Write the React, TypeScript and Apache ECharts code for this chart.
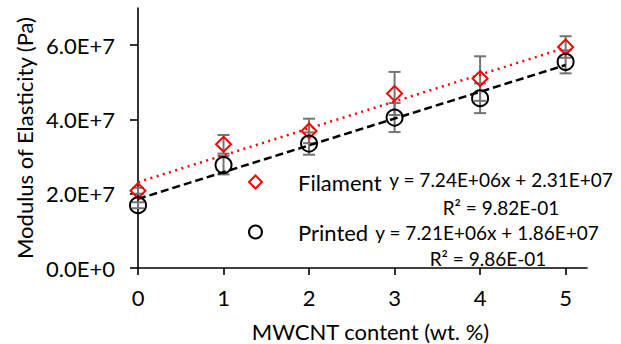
import React, { useEffect, useRef } from "react";
import * as echarts from "echarts";

const xValues = [0, 1, 2, 3, 4, 5];
const filamentValues = [2.08e7, 3.33e7, 3.69e7, 4.70e7, 5.10e7, 5.95e7];
const filamentErrors = [0.08e7, 0.25e7, 0.33e7, 0.58e7, 0.6e7, 0.29e7];
const printedValues = [1.69e7, 2.77e7, 3.35e7, 4.05e7, 4.57e7, 5.55e7];
const printedErrors = [0.08e7, 0.25e7, 0.3e7, 0.39e7, 0.4e7, 0.31e7];
const filamentFit = { slope: 7.24e6, intercept: 2.31e7 };
const printedFit = { slope: 7.21e6, intercept: 1.86e7 };
const yTicks = [0, 2e7, 4e7, 6e7];
const xTicks = [0, 1, 2, 3, 4, 5];
const filamentEq = ["y = 7.24E+06x + 2.31E+07", "R² = 9.82E-01"];
const printedEq = ["y = 7.21E+06x + 1.86E+07", "R² = 9.86E-01"];

const FONT = "Lato";

function errData(vals: number[], errs: number[]) {
  return xValues.map((x, i) => [x, vals[i] - errs[i], vals[i] + errs[i]]);
}

function fitLine(fit: { slope: number; intercept: number }) {
  const x0 = xValues[0];
  const x1 = xValues[xValues.length - 1];
  return [
    [x0, fit.slope * x0 + fit.intercept],
    [x1, fit.slope * x1 + fit.intercept],
  ];
}

const errRender = (params: any, api: any) => {
  const x = api.value(0);
  const top = api.coord([x, api.value(2)]);
  const bot = api.coord([x, api.value(1)]);
  const w = 6;
  const style = { stroke: "#737373", lineWidth: 2 };
  return {
    type: "group",
    children: [
      { type: "line", shape: { x1: top[0], y1: top[1], x2: bot[0], y2: bot[1] }, style },
      { type: "line", shape: { x1: top[0] - w, y1: top[1], x2: top[0] + w, y2: top[1] }, style },
      { type: "line", shape: { x1: bot[0] - w, y1: bot[1], x2: bot[0] + w, y2: bot[1] }, style },
    ],
  };
};

export default function App() {
  const ref = useRef<HTMLDivElement>(null);
  useEffect(() => {
    if (!ref.current) return;
    const chart = echarts.init(ref.current, null, { renderer: "svg" });
    const axisLine = { lineStyle: { color: "#000", width: 1.6 } };
    const eqStyle = (text: string) => ({
      text,
      font: `19px ${FONT}`,
      fill: "#000",
      align: "center",
      verticalAlign: "middle",
    });
    chart.setOption({
      animation: false,
      backgroundColor: "#fff",
      grid: { left: 138, right: 34, top: 8, bottom: 76, outerBoundsMode: "none" },
      xAxis: {
        type: "value",
        min: 0,
        max: 5.25,
        interval: 1,
        axisLine,
        axisTick: { show: true, length: 7, lineStyle: { color: "#000", width: 1.6 }, customValues: xTicks },
        axisLabel: {
          customValues: xTicks,
          formatter: (v: number) => String(v),
          color: "#000",
          fontFamily: FONT,
          fontSize: 22,
          margin: 18,
        },
        splitLine: { show: false },
        name: "MWCNT content (wt. %)",
        nameLocation: "middle",
        nameGap: 52,
        nameTextStyle: { color: "#000", fontFamily: FONT, fontSize: 22, lineHeight: 22, padding: [0, 0, 0, 16] },
      },
      yAxis: {
        type: "value",
        min: 0,
        max: 7e7,
        interval: 2e7,
        axisLine,
        axisTick: { show: true, length: 8, lineStyle: { color: "#000", width: 1.6 }, customValues: yTicks },
        axisLabel: {
          customValues: yTicks,
          formatter: (v: number) => (v === 0 ? "0.0E+0" : (v / 1e7).toFixed(1) + "E+7"),
          color: "#000",
          fontFamily: FONT,
          fontSize: 22,
          margin: 23,
        },
        splitLine: { show: false },
        name: "Modulus of Elasticity (Pa)",
        nameLocation: "middle",
        nameRotate: 90,
        nameGap: 98,
        nameTextStyle: { color: "#000", fontFamily: FONT, fontSize: 22 },
      },
      legend: {
        data: ["Filament", "Printed"],
        orient: "vertical",
        left: 243,
        top: 166,
        itemWidth: 13,
        itemHeight: 13,
        itemGap: 28,
        itemStyle: { opacity: 1 },
        textStyle: { color: "#000", fontFamily: FONT, fontSize: 22, padding: [0, 0, 0, 31] },
      },
      graphic: [
        { type: "text", x: 501, y: 179, style: eqStyle(filamentEq[0]) },
        { type: "text", x: 501, y: 207, style: eqStyle(filamentEq[1]) },
        { type: "text", x: 487, y: 232, style: eqStyle(printedEq[0]) },
        { type: "text", x: 488, y: 258, style: eqStyle(printedEq[1]) },
      ],
      series: [
        {
          type: "custom",
          name: "filamentErr",
          renderItem: errRender,
          data: errData(filamentValues, filamentErrors),
          z: 1,
        },
        {
          type: "custom",
          name: "printedErr",
          renderItem: errRender,
          data: errData(printedValues, printedErrors),
          z: 1,
        },
        {
          type: "line",
          name: "filamentFit",
          data: fitLine(filamentFit),
          symbol: "none",
          lineStyle: { color: "#ff0000", width: 2.5, type: [2, 4.5] },
          z: 2,
        },
        {
          type: "line",
          name: "printedFit",
          data: fitLine(printedFit),
          symbol: "none",
          lineStyle: { color: "#000", width: 2.5, type: [8, 4] },
          z: 2,
        },
        {
          type: "scatter",
          name: "Filament",
          data: xValues.map((x, i) => [x, filamentValues[i]]),
          symbol: "diamond",
          symbolSize: 15,
          itemStyle: { color: "rgba(0,0,0,0)", borderColor: "#ff0000", borderWidth: 2, opacity: 1 },
          z: 3,
        },
        {
          type: "scatter",
          name: "Printed",
          data: xValues.map((x, i) => [x, printedValues[i]]),
          symbol: "circle",
          symbolSize: 16,
          itemStyle: { color: "rgba(0,0,0,0)", borderColor: "#000", borderWidth: 2, opacity: 1 },
          z: 3,
        },
      ],
    });
    return () => chart.dispose();
  }, []);
  return (
    <div
      ref={ref}
      style={{ position: "fixed", left: 0, top: 0, width: 621, height: 344 }}
    />
  );
}
